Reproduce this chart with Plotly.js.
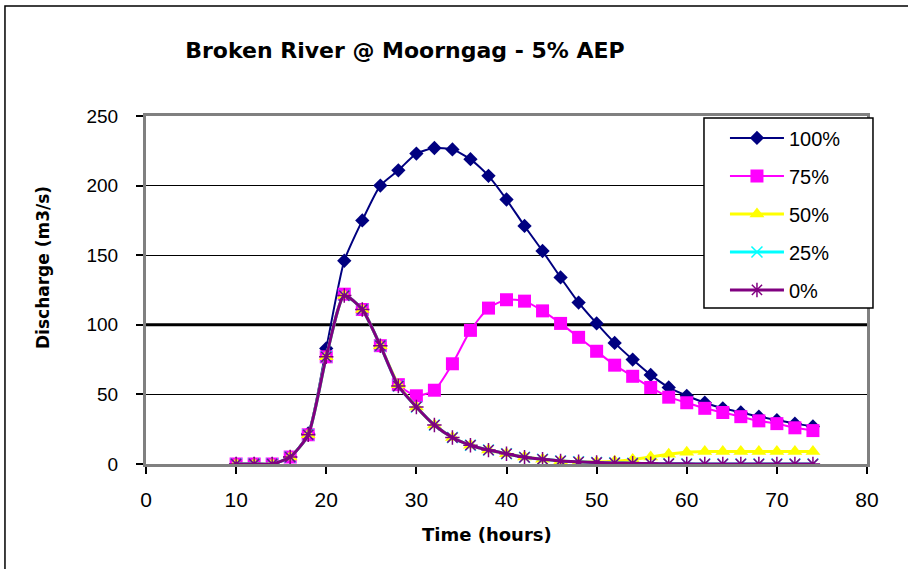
<!DOCTYPE html>
<html>
<head>
<meta charset="utf-8">
<script src="https://cdn.plot.ly/plotly-3.0.1.min.js"></script>
<style>
  html, body { margin: 0; padding: 0; background: #ffffff; }
  #chart { width: 908px; height: 569px; }
</style>
</head>
<body>
<div id="chart"></div>
<script>
// Time (hours)
const time = [10,12,14,16,18,20,22,24,26,28,30,32,34,36,38,40,42,44,46,48,50,52,54,56,58,60,62,64,66,68,70,72,74];

// Discharge (m3/s) per scenario
const q100 = [0,0,0,5,22,83,146,175,200,211,223,227,226,219,207,190,171,153,134,116,101,87,75,64,55,49,44,40,37,34,31.5,29,27];
const q75  = [0,0,0,5,21,77,122,111,85,57,49,53,72,96,112,118,117,110,101,91,81,71,63,55,48,44,40,37,34,31,29,26,24];
const q50  = [0,0,0,5,21,77,121,111,85,57,41,28,19,13.5,10,7.4,5,3.4,2.2,1.6,1.5,2,3.3,5,7,8.5,9,9,9,9,9,9,9];
const q25  = [0,0,0,5,21,77,121,111,85,56,41,28,19,13.5,10,7.4,4.8,3.4,2.2,1.6,1.1,0.8,0.5,0.3,0.2,0.1,0,0,0,0,0,0,0];
const q0   = [0,0,0,5,21,77,121,111,85,56,41,28,19,13.5,10,7.4,4.8,3.4,2.2,1.6,1.1,0.8,0.5,0.3,0.2,0.1,0,0,0,0,0,0,0];

const seriesNames = ['100%','75%','50%','25%','0%'];
const seriesData = [q100, q75, q50, q25, q0];

const titleText = 'Broken River @ Moorngag - 5% AEP';
const xTitleText = 'Time (hours)';
const yTitleText = 'Discharge (m3/s)';

const styles = [
  {line:{color:'#000080', width:2}, marker:{symbol:'diamond', size:11, color:'#000080'}},
  {line:{color:'#FF00FF', width:2}, marker:{symbol:'square', size:13, color:'#FF00FF'}},
  {line:{color:'#FFFF00', width:3}, marker:{symbol:'triangle-up', size:13, color:'#FFFF00'}},
  {line:{color:'#00FFFF', width:3}, marker:{symbol:'x-thin-open', size:11, color:'#00FFFF', line:{color:'#00FFFF', width:1.5}}},
  {line:{color:'#800080', width:3}, marker:{symbol:'asterisk-open', size:12, color:'#800080', line:{color:'#800080', width:1.5}}}
];

const traces = seriesNames.map((name, i) => ({
  type: 'scatter',
  mode: 'lines+markers',
  name: name,
  legendgroup: 'g' + i,
  x: time,
  y: seriesData[i],
  line: Object.assign({shape:'spline', smoothing:0.6}, styles[i].line),
  marker: styles[i].marker,
  hoverinfo: 'skip'
}));

const layout = {
  width: 908,
  height: 569,
  margin: {l:146, r:41, t:116, b:105, pad:0},
  paper_bgcolor: '#ffffff',
  plot_bgcolor: '#ffffff',
  showlegend: true,
  hovermode: false,
  title: {
    text: titleText,
    font: {family:'DejaVu Sans', size:22, color:'#000000', weight:'bold'},
    xref: 'container', yref: 'container',
    x: 0.446, y: 0.912, xanchor: 'center', yanchor: 'middle'
  },
  xaxis: {
    range: [0, 80],
    dtick: 10,
    tick0: 0,
    showgrid: false,
    zeroline: false,
    showline: true,
    linecolor: '#808080',
    linewidth: 3,
    mirror: true,
    ticks: 'outside',
    ticklen: 7,
    tickwidth: 2,
    tickcolor: '#000000',
    ticklabelstandoff: 8,
    tickfont: {family:'Liberation Sans', size:21, color:'#000000'}
  },
  yaxis: {
    range: [0, 250],
    dtick: 50,
    tick0: 0,
    showgrid: true,
    gridcolor: '#000000',
    gridwidth: 1,
    zeroline: false,
    showline: true,
    linecolor: '#808080',
    linewidth: 3,
    mirror: true,
    ticks: 'outside',
    ticklen: 7,
    tickwidth: 2,
    tickcolor: '#000000',
    ticklabelstandoff: 14,
    tickfont: {family:'Liberation Sans', size:19, color:'#000000'}
  },
  legend: {
    x: 0.803, y: 0.993,
    xanchor: 'left', yanchor: 'top',
    bgcolor: 'rgba(0,0,0,0)',
    borderwidth: 0,
    tracegroupgap: 9,
    itemwidth: 54,
    font: {family:'Liberation Sans', size:20, color:'#000000'}
  },
  annotations: [
    {
      text: xTitleText, xref:'paper', yref:'paper', x:0.473, y:-0.204,
      xanchor:'center', yanchor:'middle', showarrow:false,
      font:{family:'DejaVu Sans', size:18, color:'#000000', weight:'bold'}
    },
    {
      text: yTitleText, xref:'paper', yref:'paper', x:-0.1429, y:0.566,
      xanchor:'center', yanchor:'middle', showarrow:false, textangle:-90,
      font:{family:'DejaVu Sans', size:17, color:'#000000', weight:'bold'}
    }
  ],
  shapes: [
    // outer chart frame
    {type:'rect', xref:'paper', yref:'paper', x0:-0.1956, x1:1.08, y0:-0.36, y1:1.316,
     line:{color:'#000000', width:1.5}, fillcolor:'rgba(0,0,0,0)', layer:'below'},
    // heavier gridline at 100
    {type:'line', xref:'paper', yref:'y', x0:0, x1:1, y0:100, y1:100,
     line:{color:'#000000', width:3}, layer:'below'},
    // legend box
    {type:'rect', xref:'paper', yref:'paper', x0:0.7739, x1:1.0083, y0:0.4483, y1:0.9943,
     line:{color:'#000000', width:1.5}, fillcolor:'#ffffff', layer:'above'}
  ]
};

Plotly.newPlot('chart', traces, layout, {displayModeBar:false, staticPlot:true});
</script>
</body>
</html>
